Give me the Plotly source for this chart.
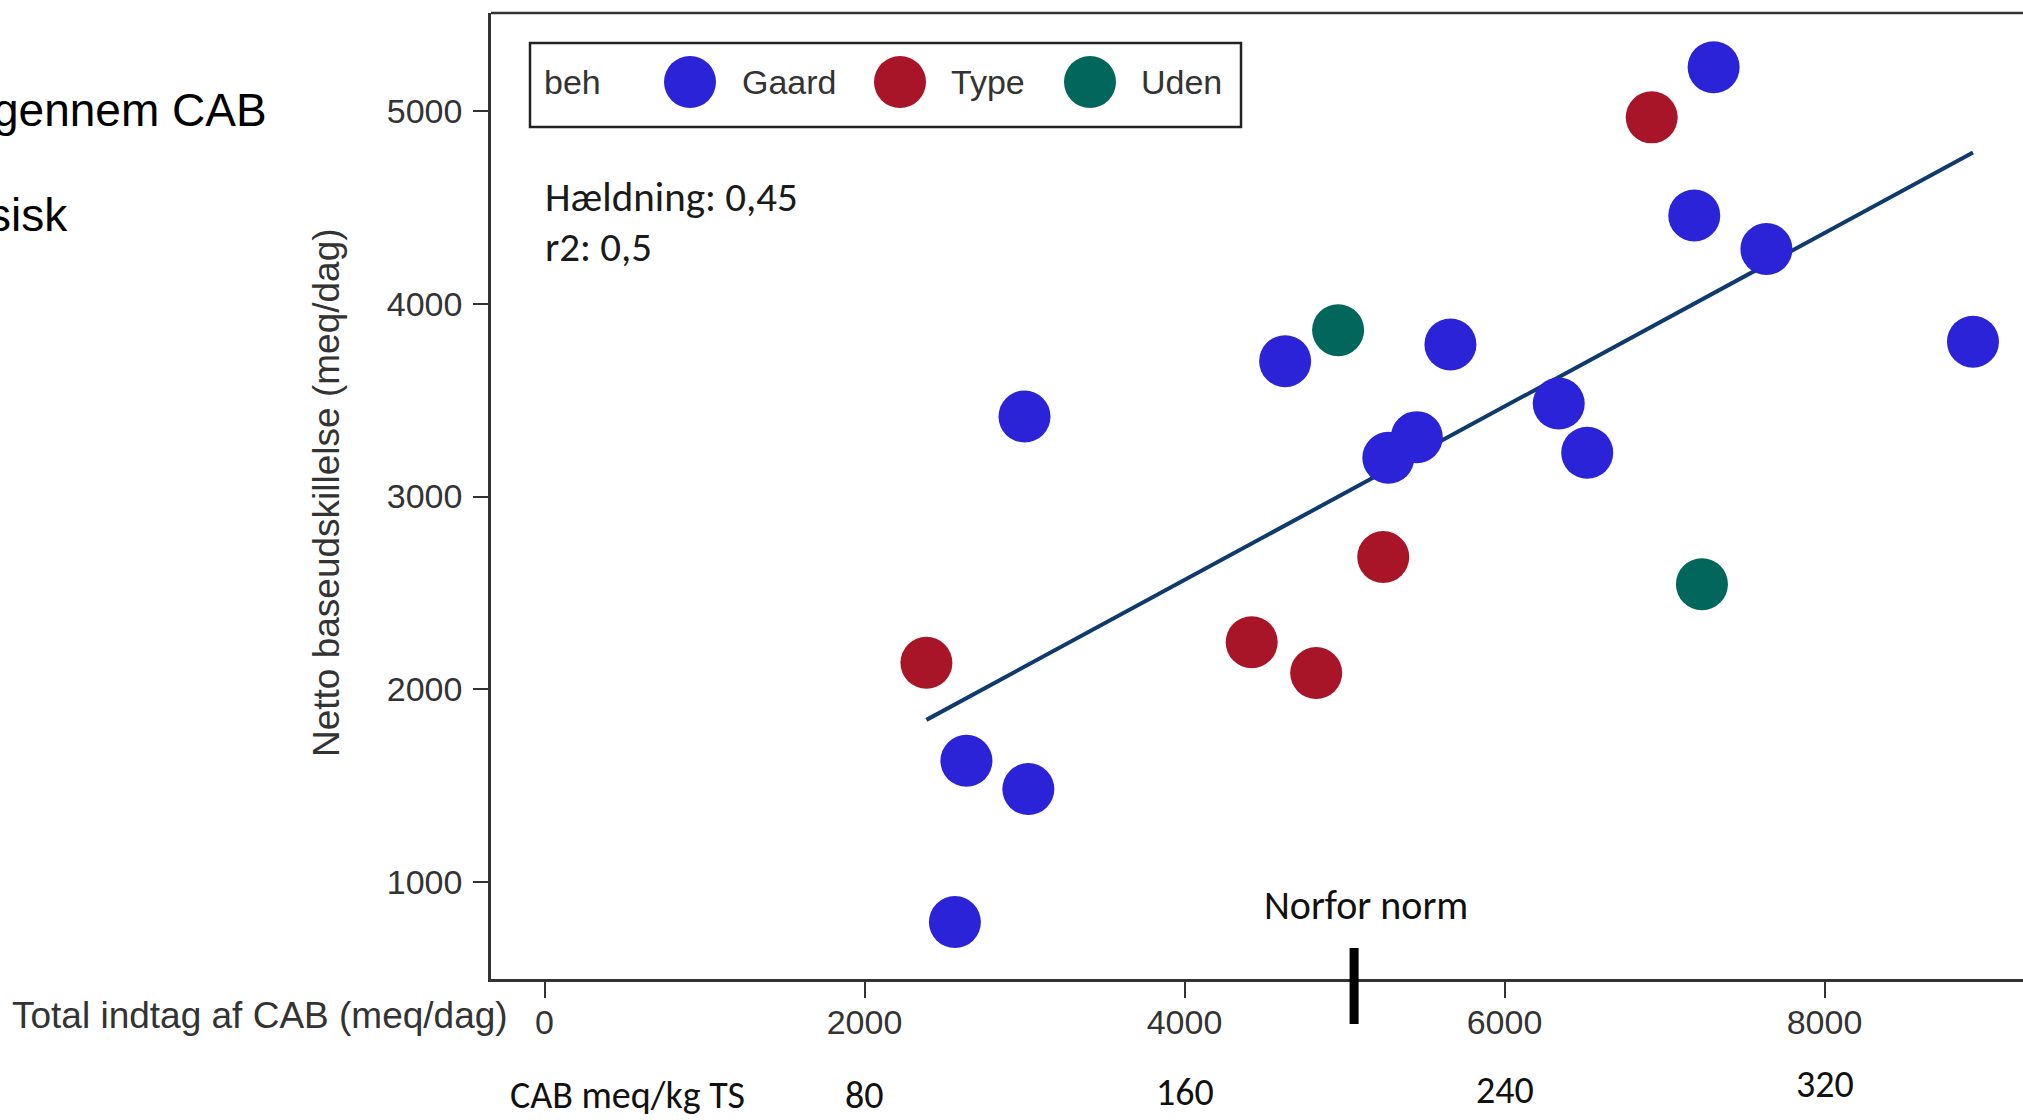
import plotly.graph_objects as go

# ---- data -------------------------------------------------------------
gaard_x = [7307, 7186, 7637, 8928, 5662, 4629, 3000, 6339, 6517, 5452, 5274, 2637, 3024, 2565]
gaard_y = [5227, 4458, 4284, 3803, 3789, 3702, 3415, 3482, 3227, 3308, 3201, 1629, 1482, 792]

type_x = [6920, 5242, 4420, 4823, 2387]
type_y = [4967, 2686, 2244, 2084, 2137]

uden_x = [4960, 7234]
uden_y = [3863, 2545]

slope = 0.45
intercept = 767
r2_label = "0,5"

x_ticks = [0, 2000, 4000, 6000, 8000]
y_ticks = [1000, 2000, 3000, 4000, 5000]
cab_kg_ts = [80, 160, 240, 320]
cab_kg_ts_at = [2000, 4000, 6000, 8000]
norfor_norm = 5060

# ---- styling ----------------------------------------------------------
W, H = 2023, 1120
L, R, T, B = 491, 2023, 13, 979
ARIAL = "Liberation Sans, Arial, sans-serif"
CALIBRI = "Carlito, Calibri, Lato, sans-serif"
AXIS_GREY = "#333333"
colors = {"Gaard": "#2a23d7", "Type": "#a91528", "Uden": "#01665b"}
LINE_COLOR = "#0e3a6e"
MARKER = 52


def px(xp):
    return (xp - L) / (R - L)


def py(yp):
    return (B - yp) / (B - T)


fig = go.Figure()

# fitted line over the x-span of all observations
all_x = gaard_x + type_x + uden_x
x_lo, x_hi = min(all_x), max(all_x)
fig.add_trace(go.Scatter(
    x=[x_lo, x_hi], y=[intercept + slope * x_lo, intercept + slope * x_hi],
    mode="lines", line=dict(color=LINE_COLOR, width=4), showlegend=False,
    hoverinfo="skip"))

for name, xs, ys in [("Gaard", gaard_x, gaard_y), ("Type", type_x, type_y),
                     ("Uden", uden_x, uden_y)]:
    fig.add_trace(go.Scatter(
        x=xs, y=ys, mode="markers", name=name, showlegend=False,
        marker=dict(size=MARKER, color=colors[name], line=dict(width=0))))

shapes = []
annotations = []

# top border of the plot frame
shapes.append(dict(type="line", xref="paper", yref="paper", x0=0, x1=1, y0=1, y1=1,
                   line=dict(color=AXIS_GREY, width=2.5)))

# legend box
shapes.append(dict(type="rect", xref="paper", yref="paper",
                   x0=px(530), x1=px(1241), y0=py(127), y1=py(43),
                   line=dict(color="#222222", width=2.5), fillcolor="rgba(0,0,0,0)"))
annotations.append(dict(text="beh", xref="paper", yref="paper", x=px(542), y=py(82),
                        xanchor="left", yanchor="middle", showarrow=False,
                        font=dict(family=ARIAL, size=34, color=AXIS_GREY)))
legend_items = [("Gaard", 690, 740), ("Type", 900, 949), ("Uden", 1090, 1139)]
for name, cx, tx in legend_items:
    shapes.append(dict(type="circle", xref="paper", yref="paper",
                       xsizemode="pixel", ysizemode="pixel",
                       xanchor=px(cx), yanchor=py(82),
                       x0=-MARKER / 2, x1=MARKER / 2, y0=-MARKER / 2, y1=MARKER / 2,
                       fillcolor=colors[name], line=dict(width=0)))
    annotations.append(dict(text=name, xref="paper", yref="paper", x=px(tx), y=py(82),
                            xanchor="left", yanchor="middle", showarrow=False,
                            font=dict(family=ARIAL, size=34, color=AXIS_GREY)))

# fit statistics
annotations.append(dict(text="Hældning: " + f"{slope:.2f}".replace(".", ","),
                        xref="paper", yref="paper", x=px(543), y=py(197),
                        xanchor="left", yanchor="middle", showarrow=False,
                        font=dict(family=CALIBRI, size=41, color="#1a1a1a")))
annotations.append(dict(text="r2: " + r2_label,
                        xref="paper", yref="paper", x=px(543), y=py(247),
                        xanchor="left", yanchor="middle", showarrow=False,
                        font=dict(family=CALIBRI, size=41, color="#1a1a1a")))

# Norfor norm marker on the x axis
shapes.append(dict(type="line", xref="x", yref="paper", x0=norfor_norm, x1=norfor_norm,
                   y0=py(1024), y1=py(948), line=dict(color="black", width=9)))
annotations.append(dict(text="Norfor norm", xref="x", yref="paper", x=norfor_norm,
                        xshift=12, y=py(905), xanchor="center", yanchor="middle",
                        showarrow=False,
                        font=dict(family=CALIBRI, size=40, color="#111111")))

# axis titles
annotations.append(dict(text="Total indtag af CAB (meq/dag)", xref="paper", yref="paper",
                        x=px(510), y=py(1015), xanchor="right", yanchor="middle",
                        showarrow=False, font=dict(family=ARIAL, size=37, color=AXIS_GREY)))
annotations.append(dict(text="Netto baseudskillelse (meq/dag)", xref="paper", yref="paper",
                        x=px(326), y=py(493), xanchor="center", yanchor="middle",
                        textangle=-90, showarrow=False,
                        font=dict(family=ARIAL, size=37, color=AXIS_GREY)))

# secondary scale: CAB per kg dry matter
annotations.append(dict(text="CAB meq/kg TS", xref="paper", yref="paper",
                        x=px(508), y=py(1095), xanchor="left", yanchor="middle",
                        showarrow=False, font=dict(family=CALIBRI, size=38, color="#111111")))
label_rows = [1095, 1092, 1090, 1084]
for val, at, yrow in zip(cab_kg_ts, cab_kg_ts_at, label_rows):
    annotations.append(dict(text=str(val), xref="x", yref="paper", x=at, y=py(yrow),
                            xanchor="center", yanchor="middle", showarrow=False,
                            font=dict(family=CALIBRI, size=38, color="#111111")))

# slide text running off the left edge
annotations.append(dict(text="gennem CAB", xref="paper", yref="paper", x=px(269), y=py(110),
                        xanchor="right", yanchor="middle", showarrow=False,
                        font=dict(family=ARIAL, size=46, color="black")))
annotations.append(dict(text="sisk", xref="paper", yref="paper", x=px(70), y=py(215),
                        xanchor="right", yanchor="middle", showarrow=False,
                        font=dict(family=ARIAL, size=46, color="black")))

fig.update_layout(
    width=W, height=H,
    margin=dict(l=L, r=W - R, t=T, b=H - B, pad=0),
    paper_bgcolor="white", plot_bgcolor="white",
    shapes=shapes, annotations=annotations,
    xaxis=dict(range=[(L - 544.5) / 0.16, (R - 544.5) / 0.16],
               tickvals=x_ticks, ticktext=[str(v) for v in x_ticks],
               showgrid=False, zeroline=False, showline=True,
               linecolor=AXIS_GREY, linewidth=2.5,
               ticks="outside", ticklen=16, tickwidth=2, tickcolor=AXIS_GREY,
               tickfont=dict(family=ARIAL, size=34, color=AXIS_GREY),
               ticklabelstandoff=-5),
    yaxis=dict(range=[5000 - (B - 111) / 0.19275, 5000 + (111 - T) / 0.19275],
               tickvals=y_ticks, ticktext=[str(v) for v in y_ticks],
               showgrid=False, zeroline=False, showline=True,
               linecolor=AXIS_GREY, linewidth=2.5,
               ticks="outside", ticklen=15, tickwidth=2, tickcolor=AXIS_GREY,
               tickfont=dict(family=ARIAL, size=34, color=AXIS_GREY),
               ticklabelstandoff=4),
)

fig.write_html("out.html")
